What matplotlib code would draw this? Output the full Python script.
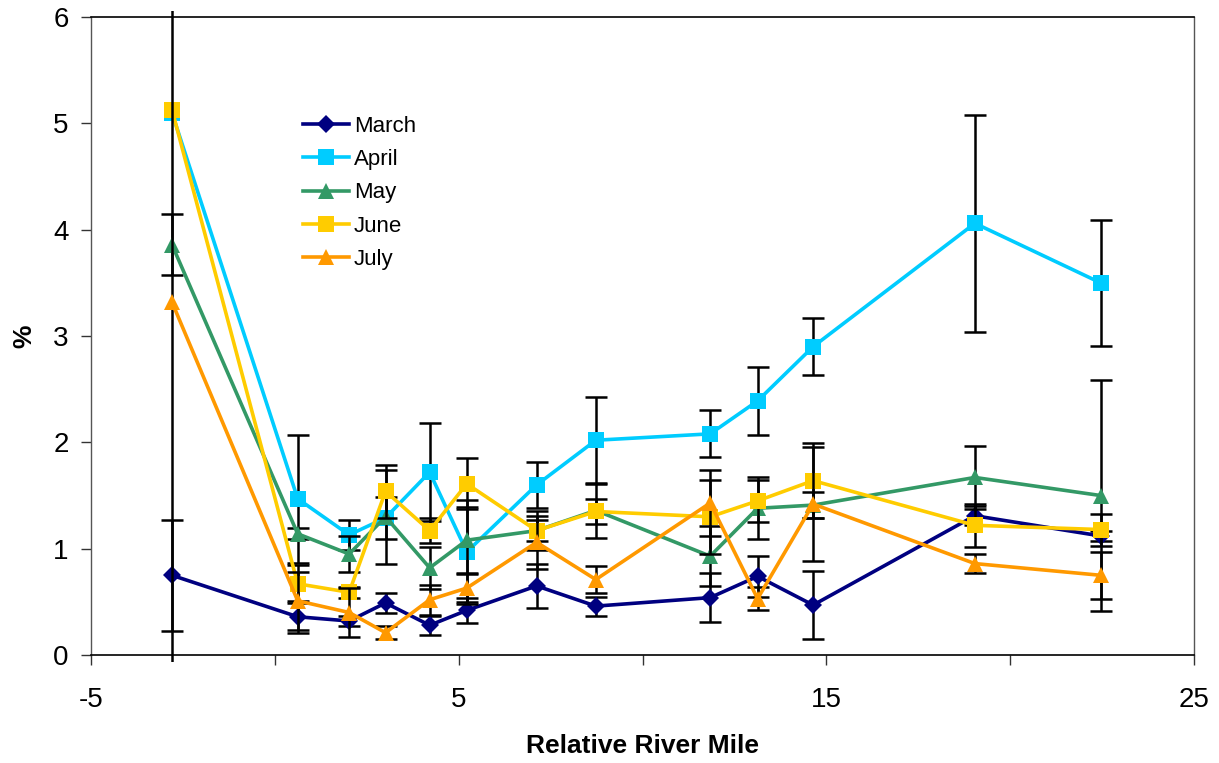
import numpy as np
import matplotlib
matplotlib.use('Agg')
import matplotlib.pyplot as plt
from matplotlib.lines import Line2D
from matplotlib.transforms import Bbox, TransformedBbox

plt.rcParams['font.family'] = ['Liberation Sans', 'DejaVu Sans']
plt.rcParams['axes.unicode_minus'] = False

# Relative river mile of each sampling station
river_mile = [-2.8, 0.62, 2.02, 3.01, 4.21, 5.22, 7.12, 8.73, 11.84, 13.13, 14.64, 19.04, 22.46]

months = ['March', 'April', 'May', 'June', 'July']

march = [0.75, 0.36, 0.32, 0.49, 0.28, 0.42, 0.65, 0.46, 0.54, 0.74, 0.47, 1.31, 1.12]
april = [5.10, 1.47, 1.13, 1.29, 1.72, 0.97, 1.60, 2.02, 2.08, 2.39, 2.90, 4.06, 3.50]
may   = [3.86, 1.14, 0.95, 1.30, 0.82, 1.08, 1.17, 1.36, 0.93, 1.38, 1.41, 1.67, 1.50]
june  = [5.13, 0.67, 0.59, 1.54, 1.17, 1.61, 1.17, 1.35, 1.30, 1.45, 1.64, 1.22, 1.18]
july  = [3.32, 0.51, 0.40, 0.21, 0.52, 0.63, 1.06, 0.71, 1.43, 0.53, 1.42, 0.86, 0.75]

# Error bar half-widths (nan = no visible bar)
march_err = [0.52, 0.15, 0.05, 0.09, 0.09, 0.12, 0.21, 0.09, 0.23, 0.19, 0.32, 0.09, 0.05]
april_err = [np.nan, 0.60, 0.14, 0.20, 0.46, 0.49, 0.22, 0.41, 0.22, 0.32, 0.27, 1.02, 0.59]
may_err   = [0.29, 0.05, 0.17, 0.44, 0.20, 0.31, 0.18, 0.26, 0.28, 0.29, 0.12, 0.30, 1.09]
june_err  = [np.nan, 0.18, 0.05, 0.25, 0.12, 0.24, 0.10, 0.12, 0.35, 0.20, 0.35, 0.20, 0.15]
july_err  = [3.50, 0.27, 0.23, 0.06, 0.14, 0.13, 0.25, 0.13, 0.31, 0.11, 0.54, 0.09, 0.22]

series = [march, april, may, june, july]
errors = [march_err, april_err, may_err, june_err, july_err]
colors = ['#000080', '#00CCFF', '#339966', '#FFCC00', '#FF9900']
markers = ['D', 's', '^', 's', '^']
sizes = [9, 11, 11, 11, 11]

figure = plt.figure(figsize=(12.19, 7.63), dpi=100)
axes = figure.add_subplot(111)
figure.subplots_adjust(left=0.0747, right=0.9795, top=0.9777, bottom=0.1415)

axes.set_xlim(-5, 25)
axes.set_ylim(0, 6)

# Slightly larger clip box so the huge bar pokes out of the frame like the original
clip = TransformedBbox(Bbox([[-5.5, -0.07], [25.5, 6.06]]), axes.transData)

handles = []
for i, (vals, errs) in enumerate(zip(series, errors)):
    line, caps, bars = axes.errorbar(
        river_mile, vals, yerr=errs, color=colors[i], marker=markers[i],
        markersize=sizes[i], markeredgewidth=0, linewidth=2.6,
        ecolor='black', elinewidth=1.8, capsize=8, capthick=1.8,
        zorder=3 + i)
    for cap in caps:
        cap.set_markeredgewidth(1.8)
        cap.set_markeredgecolor('black')
    for artist in list(caps) + list(bars):
        artist.set_clip_box(clip)
    handles.append(Line2D([], [], color=colors[i], marker=markers[i],
                          markersize=sizes[i], markeredgewidth=0,
                          linewidth=2.6, label=months[i]))

# Ticks
axes.set_xticks([-5, 5, 15, 25])
axes.set_xticks([0, 10, 20], minor=True)
axes.set_yticks(range(0, 7))
axes.tick_params(axis='both', which='both', direction='out', length=7,
                 width=1, colors='#333333', labelsize=20, labelcolor='black')
axes.tick_params(axis='x', pad=16)
axes.tick_params(axis='y', pad=9)

for side in ['top', 'bottom']:
    axes.spines[side].set_color('black')
    axes.spines[side].set_linewidth(1.2)
for side in ['left', 'right']:
    axes.spines[side].set_color('#555555')
    axes.spines[side].set_linewidth(1.0)

axes.set_xlabel('Relative River Mile', fontsize=19, fontweight='bold', labelpad=15)
axes.set_ylabel('%', fontsize=19, fontweight='bold', labelpad=12)

axes.legend(handles=handles, loc='upper left', bbox_to_anchor=(0.192, 0.845),
            frameon=False, fontsize=16, handlelength=2.1, handletextpad=0.2,
            labelspacing=0.55, borderpad=0, borderaxespad=0)

figure.savefig('out.png', dpi=100, facecolor='white')
